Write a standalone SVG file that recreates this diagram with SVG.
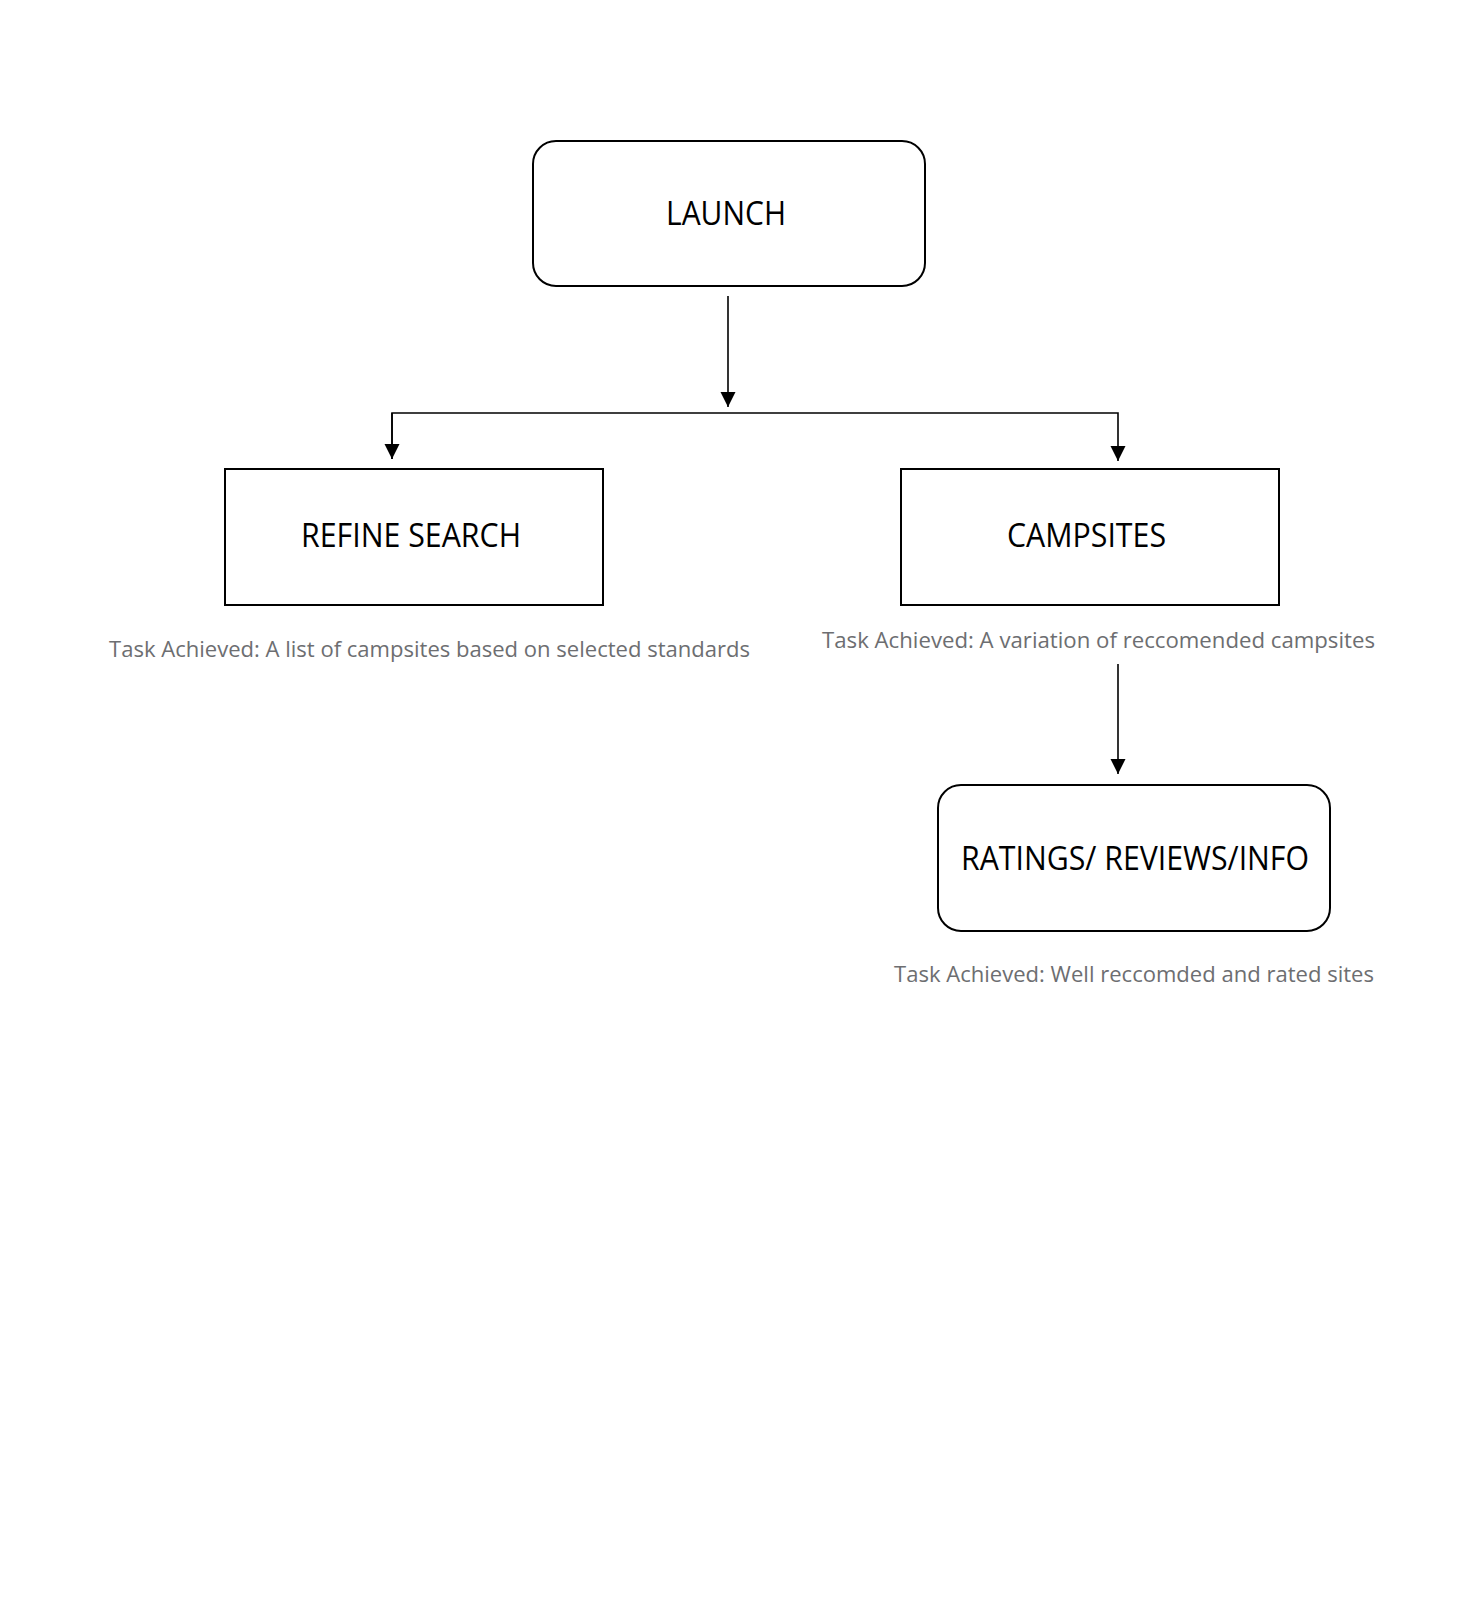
<svg xmlns="http://www.w3.org/2000/svg" width="1460" height="1617" viewBox="0 0 1460 1617">
<style>
.box{fill:#fff;stroke:#000;stroke-width:2}
.lbl{font-family:"Open Sans","Liberation Sans",sans-serif;font-size:32px;fill:#000}
.cap{font-family:"Open Sans","Liberation Sans",sans-serif;font-size:22px;fill:#6d6e71}
.con{fill:none;stroke:#000;stroke-width:1.6}
</style>
<defs>
<marker id="ah" markerUnits="userSpaceOnUse" markerWidth="16" markerHeight="16" viewBox="0 0 16 16" refX="15" refY="8" orient="auto">
<path d="M0,0.5 L15,8 L0,15.5 Z" fill="#000"/>
</marker>
</defs>
<rect width="1460" height="1617" fill="#fff"/>
<g id="connectors">
<path class="con" d="M728,296 V407" marker-end="url(#ah)"/>
<path class="con" d="M392,459 V413 H1118 V461" marker-end="url(#ah)"/>
<path class="con" d="M392,413 V459" marker-end="url(#ah)"/>
<path class="con" d="M1118,664 V774" marker-end="url(#ah)"/>
</g>
<g id="node-launch">
<rect class="box" x="533" y="141" width="392" height="145" rx="23"/>
<text class="lbl" x="666" y="225" textLength="120" lengthAdjust="spacingAndGlyphs">LAUNCH</text>
</g>
<g id="node-refine">
<rect class="box" x="225" y="469" width="378" height="136"/>
<text class="lbl" x="301" y="547" textLength="220" lengthAdjust="spacingAndGlyphs">REFINE SEARCH</text>
<text class="cap" x="109" y="657" textLength="641" lengthAdjust="spacingAndGlyphs">Task Achieved: A list of campsites based on selected standards</text>
</g>
<g id="node-campsites">
<rect class="box" x="901" y="469" width="378" height="136"/>
<text class="lbl" x="1007" y="547" textLength="159" lengthAdjust="spacingAndGlyphs">CAMPSITES</text>
<text class="cap" x="822" y="648" textLength="553" lengthAdjust="spacingAndGlyphs">Task Achieved: A variation of reccomended campsites</text>
</g>
<g id="node-ratings">
<rect class="box" x="938" y="785" width="392" height="146" rx="23"/>
<text class="lbl" x="961" y="870" textLength="348" lengthAdjust="spacingAndGlyphs">RATINGS/ REVIEWS/INFO</text>
<text class="cap" x="894" y="982" textLength="480" lengthAdjust="spacingAndGlyphs">Task Achieved: Well reccomded and rated sites</text>
</g>
</svg>
